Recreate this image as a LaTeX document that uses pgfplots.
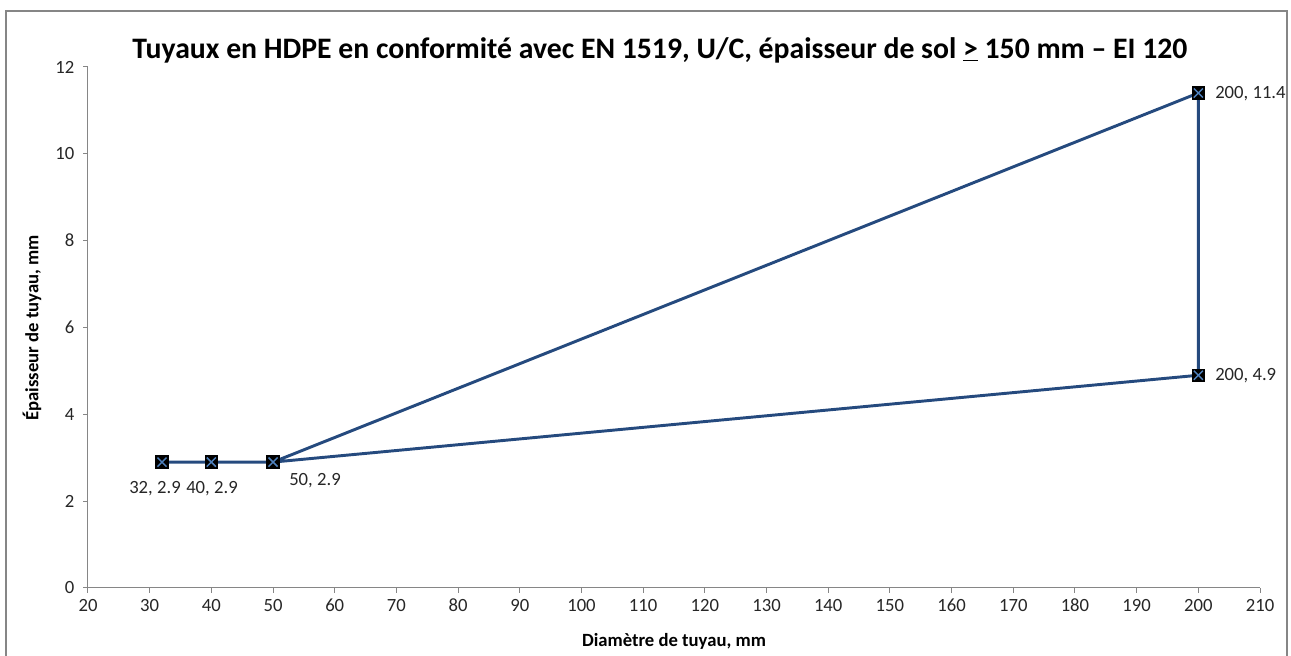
\documentclass[border=0pt]{standalone}
\usepackage{pgfplots}
\pgfplotsset{compat=1.18}
\usepackage{fontspec}
\setmainfont{Carlito}
\definecolor{lineblue}{RGB}{37,74,126}
\definecolor{xblue}{RGB}{79,129,189}
\definecolor{axgray}{RGB}{134,134,134}
\begin{document}
\begin{tikzpicture}
\begin{axis}[
  at={(0pt,0pt)}, anchor=south west,
  scale only axis, width=879pt, height=390.75pt,
  xmin=20, xmax=210, ymin=0, ymax=12,
  xtick distance=10, ytick distance=2,
  axis x line*=bottom, axis y line*=left,
  axis line style={draw=axgray, line width=0.75pt, -},
  tick align=outside, major tick length=3.75pt,
  tick style={draw=axgray, line width=0.75pt},
  /pgf/number format/assume math mode=true,
  ticklabel style={font=\fontsize{14}{16}\selectfont, text=black!85},
  xticklabel style={yshift=-1pt},
  yticklabel style={xshift=-3pt},
  clip=false,
]
\addplot[lineblue, line width=2.2pt, mark=square*, mark size=4.8pt,
  mark options={fill=black, draw=black, line width=0.5pt}]
  coordinates {(32,2.9) (40,2.9) (50,2.9) (200,11.4) (200,4.9) (50,2.9)};
\addplot[only marks, xblue, mark=x, mark size=4.8pt, mark options={line width=1.1pt}]
  coordinates {(32,2.9) (40,2.9) (50,2.9) (200,11.4) (200,4.9)};
\end{axis}
% data labels
\begin{scope}[every node/.style={font=\fontsize{14}{16}\selectfont, text=black!85, inner sep=0pt}]
\node at (50.25pt,74.25pt) {32, 2.9};
\node at (93pt,74.25pt) {40, 2.9};
\node at (170.25pt,80.25pt) {50, 2.9};
\node[anchor=west] at (845.25pt,370.5pt) {200, 11.4};
\node[anchor=west] at (845.25pt,159pt) {200, 4.9};
\end{scope}
% title and axis labels
\node[font=\fontsize{22.3}{26}\selectfont\bfseries, inner sep=0pt] at (429pt,403.5pt)
  {Tuyaux en HDPE en conformité avec EN 1519, U/C, épaisseur de sol \underline{>} 150 mm – EI 120};
\node[font=\fontsize{14}{16}\selectfont\bfseries, inner sep=0pt] at (439.5pt,-39.75pt) {Diamètre de tuyau, mm};
\node[font=\fontsize{14}{16}\selectfont\bfseries, inner sep=0pt, rotate=90] at (-42pt,195pt) {Épaisseur de tuyau, mm};
% chart frame
\draw[axgray, line width=1.3pt] (-61.5pt,-80pt) rectangle (899.25pt,432.75pt);
\pgfresetboundingbox
\path[use as bounding box] (-66pt,-51pt) rectangle (902.25pt,441pt);
\end{tikzpicture}
\end{document}
